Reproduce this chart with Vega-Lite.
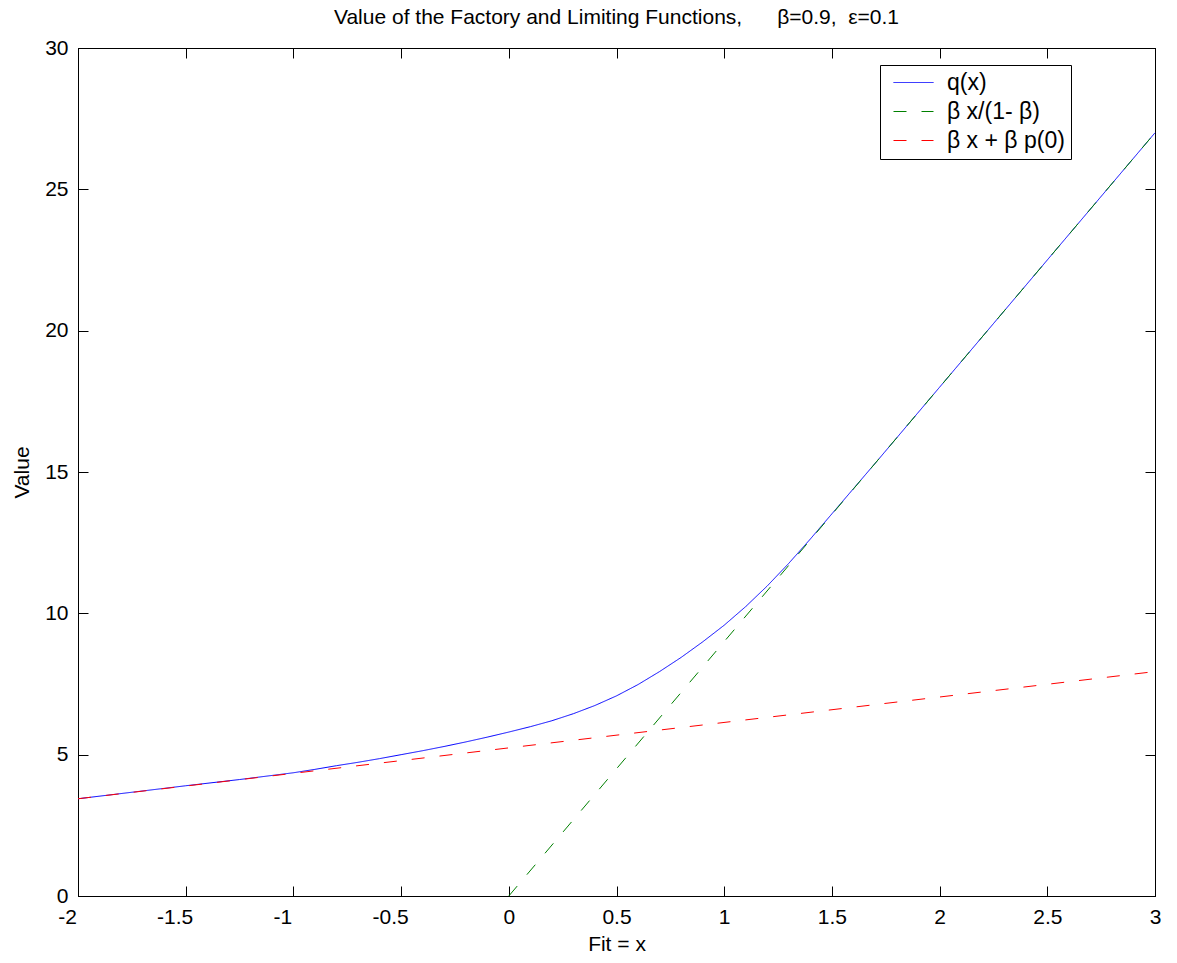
{
  "$schema": "https://vega.github.io/schema/vega-lite/v6.json",
  "width": 1077,
  "height": 848,
  "autosize": {"type": "none"},
  "padding": {"left": 78, "top": 48, "right": 22, "bottom": 67},
  "background": "white",
  "title": {
    "text": "Value of the Factory and Limiting Functions,\u00a0\u00a0\u00a0\u00a0\u00a0\u00a0β=0.9,\u00a0\u00a0ε=0.1",
    "font": "Liberation Sans",
    "fontSize": 21,
    "fontWeight": "normal",
    "color": "black",
    "offset": 9,
    "anchor": "middle"
  },
  "config": {
    "view": {"stroke": "black", "strokeWidth": 1},
    "font": "Liberation Sans",
    "axis": {
      "grid": false,
      "domainColor": "black",
      "domainWidth": 1,
      "tickColor": "black",
      "tickSize": -10,
      "tickWidth": 1,
      "labelFont": "Liberation Sans",
      "labelFontSize": 21,
      "labelColor": "black",
      "titleFont": "Liberation Sans",
      "titleFontSize": 21,
      "titleFontWeight": "normal",
      "titleColor": "black"
    },
    "legend": {
      "orient": "none",
      "legendX": 802,
      "legendY": 17,
      "strokeColor": "black",
      "fillColor": "white",
      "padding": 6,
      "symbolType": "M-2,0H2",
      "symbolSize": 400,
      "symbolStrokeWidth": 1,
      "symbolOffset": 16,
      "labelOffset": 22,
      "labelFont": "Liberation Sans",
      "labelFontSize": 23,
      "labelColor": "black",
      "rowPadding": 5
    }
  },
  "datasets": {
    "lines": [
      {"series": "q(x)", "x": -2.0, "y": 3.44},
      {"series": "q(x)", "x": -1.75, "y": 3.67},
      {"series": "q(x)", "x": -1.5, "y": 3.90},
      {"series": "q(x)", "x": -1.25, "y": 4.12},
      {"series": "q(x)", "x": -1.0, "y": 4.36},
      {"series": "q(x)", "x": -0.9, "y": 4.48},
      {"series": "q(x)", "x": -0.8, "y": 4.61},
      {"series": "q(x)", "x": -0.7, "y": 4.73},
      {"series": "q(x)", "x": -0.6, "y": 4.86},
      {"series": "q(x)", "x": -0.5, "y": 5.00},
      {"series": "q(x)", "x": -0.4, "y": 5.14},
      {"series": "q(x)", "x": -0.3, "y": 5.29},
      {"series": "q(x)", "x": -0.2, "y": 5.45},
      {"series": "q(x)", "x": -0.1, "y": 5.62},
      {"series": "q(x)", "x": 0.0, "y": 5.80},
      {"series": "q(x)", "x": 0.1, "y": 5.99},
      {"series": "q(x)", "x": 0.2, "y": 6.20},
      {"series": "q(x)", "x": 0.3, "y": 6.45},
      {"series": "q(x)", "x": 0.4, "y": 6.74},
      {"series": "q(x)", "x": 0.5, "y": 7.08},
      {"series": "q(x)", "x": 0.6, "y": 7.48},
      {"series": "q(x)", "x": 0.7, "y": 7.94},
      {"series": "q(x)", "x": 0.8, "y": 8.44},
      {"series": "q(x)", "x": 0.9, "y": 8.99},
      {"series": "q(x)", "x": 1.0, "y": 9.58},
      {"series": "q(x)", "x": 1.1, "y": 10.24},
      {"series": "q(x)", "x": 1.2, "y": 10.97},
      {"series": "q(x)", "x": 1.3, "y": 11.77},
      {"series": "q(x)", "x": 1.4, "y": 12.63},
      {"series": "q(x)", "x": 1.5, "y": 13.52},
      {"series": "q(x)", "x": 1.6, "y": 14.41},
      {"series": "q(x)", "x": 1.7, "y": 15.30},
      {"series": "q(x)", "x": 1.8, "y": 16.20},
      {"series": "q(x)", "x": 2.0, "y": 18.0},
      {"series": "q(x)", "x": 2.5, "y": 22.5},
      {"series": "q(x)", "x": 3.0, "y": 27.0},
      {"series": "β x/(1- β)", "x": 0.0, "y": 0.0},
      {"series": "β x/(1- β)", "x": 3.0, "y": 27.0},
      {"series": "β x + β p(0)", "x": -2.0, "y": 3.44},
      {"series": "β x + β p(0)", "x": 3.0, "y": 7.94}
    ]
  },
  "data": {"name": "lines"},
  "layer": [
    {
      "mark": {"type": "line", "strokeWidth": 1},
      "encoding": {
        "x": {
          "field": "x",
          "type": "quantitative",
          "scale": {"domain": [-2, 3], "nice": false, "zero": false},
          "axis": {
            "orient": "bottom",
            "title": "Fit = x",
            "values": [-2, -1.5, -1, -0.5, 0, 0.5, 1, 1.5, 2, 2.5, 3],
            "labelExpr": "'' + datum.value",
            "labelPadding": 20,
            "titlePadding": 6,
            "labelFlush": false,
            "labelOverlap": false,
            "labelOffset": {"condition": {"test": "datum.value < 0", "value": -11}, "value": 0}
          }
        },
        "y": {
          "field": "y",
          "type": "quantitative",
          "scale": {"domain": [0, 30], "nice": false, "zero": false},
          "axis": {
            "orient": "left",
            "title": "Value",
            "values": [0, 5, 10, 15, 20, 25, 30],
            "labelExpr": "'' + datum.value",
            "labelPadding": 20,
            "titlePadding": 12,
            "labelFlush": false,
            "labelOverlap": false
          }
        },
        "color": {
          "field": "series",
          "type": "nominal",
          "scale": {"domain": ["q(x)", "β x/(1- β)", "β x + β p(0)"], "range": ["#0000ff", "#008000", "#ff0000"]},
          "legend": {
            "title": null,
            "labelExpr": "datum.label + '\u00a0\u00a0\u00a0'",
            "encode": {"symbols": {"update": {"strokeDash": {"scale": "strokeDash", "field": "value"}}}}
          }
        },
        "strokeDash": {
          "field": "series",
          "type": "nominal",
          "scale": {"domain": ["q(x)", "β x/(1- β)", "β x + β p(0)"], "range": [[1, 0], [13, 15], [13, 15]]},
          "legend": null
        }
      }
    },
    {
      "mark": {"type": "line", "opacity": 0},
      "encoding": {
        "x": {
          "field": "x",
          "type": "quantitative",
          "axis": {"orient": "top", "title": null, "labels": false, "values": [-2, -1.5, -1, -0.5, 0, 0.5, 1, 1.5, 2, 2.5, 3]}
        },
        "y": {
          "field": "y",
          "type": "quantitative",
          "axis": {"orient": "right", "title": null, "labels": false, "values": [0, 5, 10, 15, 20, 25, 30]}
        },
        "detail": {"field": "series", "type": "nominal"}
      }
    }
  ],
  "resolve": {"axis": {"x": "independent", "y": "independent"}}
}
